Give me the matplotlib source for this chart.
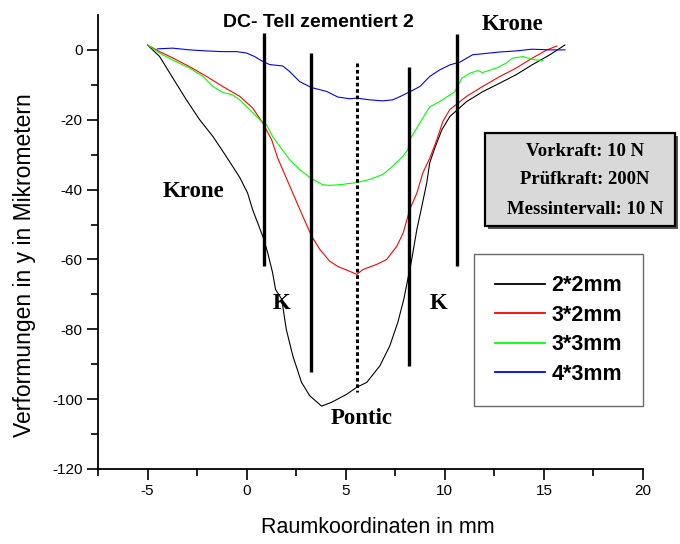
import numpy as np
import matplotlib
matplotlib.use("Agg")
import matplotlib.pyplot as plt
from matplotlib.patches import Rectangle

plt.rcParams['font.family'] = ['Liberation Sans', 'DejaVu Sans']
plt.rcParams['axes.unicode_minus'] = False

# Raumkoordinate (mm) / Verformung (um) per Probekoerper
x_2x2 = [-5.0, -4.39, -3.73, -3.04, -2.37, -1.7, -1.03, -0.35, 0.05, 0.3, 0.81, 1.06,
         1.31, 1.46, 1.77, 2.0, 2.33, 2.77, 3.18, 3.78, 4.29, 5.05, 5.56, 6.06, 6.72,
         7.22, 7.63, 7.93, 8.13, 8.33, 8.59, 8.84, 9.09, 9.24, 9.5, 9.85, 10.25, 11.1,
         11.9, 12.78, 13.6, 14.4, 15.3, 16.06]
y_2x2 = [1.4, -1.9, -8.0, -14.3, -20.0, -24.8, -30.5, -36.5, -41.0, -45.7, -53.3, -58.0,
         -63.8, -68.6, -71.4, -80.0, -87.6, -95.2, -99.0, -102.0, -100.9, -98.6, -96.6,
         -95.2, -90.5, -84.8, -78.0, -71.4, -65.7, -60.0, -51.4, -44.8, -38.0, -32.3,
         -28.0, -22.9, -19.1, -14.8, -12.0, -9.5, -7.1, -4.3, -1.4, 1.4]

x_3x2 = [-5.0, -4.39, -3.73, -2.88, -2.02, -1.2, -0.35, 0.3, 0.81, 1.26, 1.57, 1.82,
         2.33, 2.83, 3.28, 3.69, 4.19, 4.6, 5.2, 5.56, 5.86, 6.57, 7.07, 7.58, 7.9,
         8.23, 8.59, 8.89, 9.24, 9.6, 9.9, 10.25, 11.1, 11.9, 12.78, 13.6, 14.4, 15.15,
         15.65]
y_3x2 = [1.4, -0.5, -2.3, -4.8, -7.6, -10.5, -13.3, -16.6, -20.9, -25.7, -31.0, -34.3,
         -41.0, -47.6, -53.3, -57.1, -60.5, -62.0, -63.4, -64.3, -62.9, -61.4, -60.0,
         -56.2, -52.4, -45.7, -41.0, -35.2, -31.0, -25.7, -20.5, -17.1, -13.3, -10.5,
         -7.6, -5.2, -2.4, 0.0, 1.1]

x_3x3 = [-5.0, -4.39, -3.73, -2.88, -2.2, -1.7, -1.2, -0.7, -0.35, 0.15, 0.66, 1.0,
         1.31, 1.67, 2.17, 2.68, 3.23, 3.84, 4.19, 4.7, 5.56, 6.2, 6.87, 7.37, 7.88,
         8.13, 8.23, 8.74, 9.24, 9.75, 10.5, 10.86, 11.26, 11.67, 11.9, 12.6, 13.1,
         13.4, 13.95, 14.3, 14.65, 14.95]
y_3x3 = [1.4, -0.9, -2.9, -5.2, -7.6, -10.5, -12.2, -12.9, -14.3, -17.1, -20.0, -21.4,
         -24.8, -27.6, -31.4, -34.3, -36.7, -38.6, -38.8, -38.6, -38.0, -37.1, -35.7,
         -33.3, -30.5, -28.6, -25.7, -20.9, -16.3, -14.8, -12.0, -8.1, -6.7, -5.9, -6.5,
         -5.2, -3.8, -2.4, -1.9, -2.6, -2.9, -3.0]

x_4x3 = [-4.5, -3.73, -2.88, -2.02, -1.2, -0.5, 0.0, 0.4, 0.81, 1.16, 1.82, 2.17, 2.68,
         3.28, 4.04, 4.6, 5.2, 5.56, 6.2, 6.87, 7.37, 7.73, 8.23, 8.74, 9.24, 9.75,
         10.25, 10.76, 11.4, 12.27, 12.78, 13.6, 14.4, 15.3, 16.06]
y_4x3 = [0.3, 0.5, 0.0, -0.3, -0.5, -0.5, -0.9, -1.9, -3.3, -4.2, -4.6, -6.2, -9.1,
         -10.8, -11.9, -13.5, -14.0, -13.8, -14.3, -14.6, -14.3, -13.4, -12.0, -10.5,
         -7.6, -5.7, -4.3, -3.5, -1.4, -0.9, -0.6, -0.3, 0.2, 0.0, 0.0]

labels = ['2*2mm', '3*2mm', '3*3mm', '4*3mm']
colors = ['black', 'red', '#00ff00', 'blue']

# Markierungslinien: x, y_oben, y_unten
grenzen = [(0.86, 4.9, -62.0), (3.23, -0.9, -92.3), (8.18, -4.9, -90.6), (10.6, 4.6, -62.0)]
mitte = (5.56, -3.7, -98.0)

fig = plt.figure(figsize=(6.8, 5.44), dpi=100)
ax = fig.add_axes([0.1441, 0.1379, 0.8015, 0.8346])

series = [(x_2x2, y_2x2), (x_3x2, y_3x2), (x_3x3, y_3x3), (x_4x3, y_4x3)]
for (xs, ys), lab, c in zip(series, labels, colors):
    ax.plot(xs, ys, color=c, lw=0.8, label=lab)

for gx, y0, y1 in grenzen:
    ax.plot([gx, gx], [y0, y1], color='black', lw=2.4, solid_capstyle='butt')
ax.plot([mitte[0]] * 2, [mitte[1], mitte[2]], color='black', lw=2.2,
        linestyle=(0, (1.2, 0.9)), dash_capstyle='butt')

ax.set_xlim(-7.5, 20)
ax.set_ylim(-120, 10)
ax.set_xticks([-5, 0, 5, 10, 15, 20])
ax.set_xticks(np.arange(-7.5, 20.1, 2.5), minor=True)
ax.set_yticks(np.arange(-120, 1, 20))
ax.set_yticks(np.arange(-120, 10, 10), minor=True)
ax.spines['top'].set_visible(False)
ax.spines['right'].set_visible(False)
for s in ['left', 'bottom']:
    ax.spines[s].set_linewidth(1.3)
ax.tick_params(which='major', direction='out', length=8, width=1.2, labelsize=11, pad=3)
ax.tick_params(which='minor', direction='out', length=5, width=1.2)

ax.set_xlabel('Raumkoordinaten in mm', fontsize=15.5)
ax.set_ylabel('Verformungen in y in Mikrometern', fontsize=16.5)
ax.xaxis.set_label_coords(0.514, -0.106)
ax.yaxis.set_label_coords(-0.114, 0.449)

serif = ['Liberation Serif', 'DejaVu Serif']
t = ax.text(-1.21, 6.6, 'DC- Tell zementiert 2', fontsize=14, fontweight='bold')
clip = Rectangle((-8, -130), 16.45, 150, transform=ax.transData)
t.set_clip_path(clip)
ax.text(13.41, 5.7, 'Krone', family=serif, fontsize=16.5, fontweight='bold', ha='center')
ax.text(-2.68, -42.0, 'Krone', family=serif, fontsize=16.5, fontweight='bold', ha='center')
ax.text(1.77, -74.3, 'K', family=serif, fontsize=16.5, fontweight='bold', ha='center')
ax.text(9.67, -74.3, 'K', family=serif, fontsize=16.5, fontweight='bold', ha='center')
ax.text(5.81, -107.1, 'Pontic', family=serif, fontsize=16.5, fontweight='bold', ha='center')

# Kasten mit Messparametern
bx, by, bw, bh = 485 / 680, 1 - 226 / 544, 190 / 680, 93 / 544
fig.patches.append(Rectangle((bx + 3 / 680, by - 3 / 544), bw, bh, transform=fig.transFigure,
                             facecolor='#555555', edgecolor='none', zorder=5))
fig.patches.append(Rectangle((bx, by), bw, bh, transform=fig.transFigure,
                             facecolor='#d9d9d9', edgecolor='black', lw=1.6, zorder=6))
for txt, py in [('Vorkraft: 10 N', 152), ('Prüfkraft: 200N', 179), ('Messintervall: 10 N', 210)]:
    fig.text(585 / 680, 1 - py / 544, txt, family=serif, fontsize=13.5, fontweight='bold',
             ha='center', va='center', zorder=7)

leg = ax.legend(loc='upper right', bbox_to_anchor=(643 / 680, 1 - 254 / 544),
                bbox_transform=fig.transFigure, borderaxespad=0, fancybox=False,
                prop={'size': 15.5, 'weight': 'bold'}, handlelength=2.3, handletextpad=0.3,
                borderpad=0.98, labelspacing=0.4)
leg.get_frame().set_edgecolor('#444444')
leg.get_frame().set_linewidth(1.0)
for ln in leg.get_lines():
    ln.set_linewidth(1.3)

fig.savefig('out.png', dpi=100)
